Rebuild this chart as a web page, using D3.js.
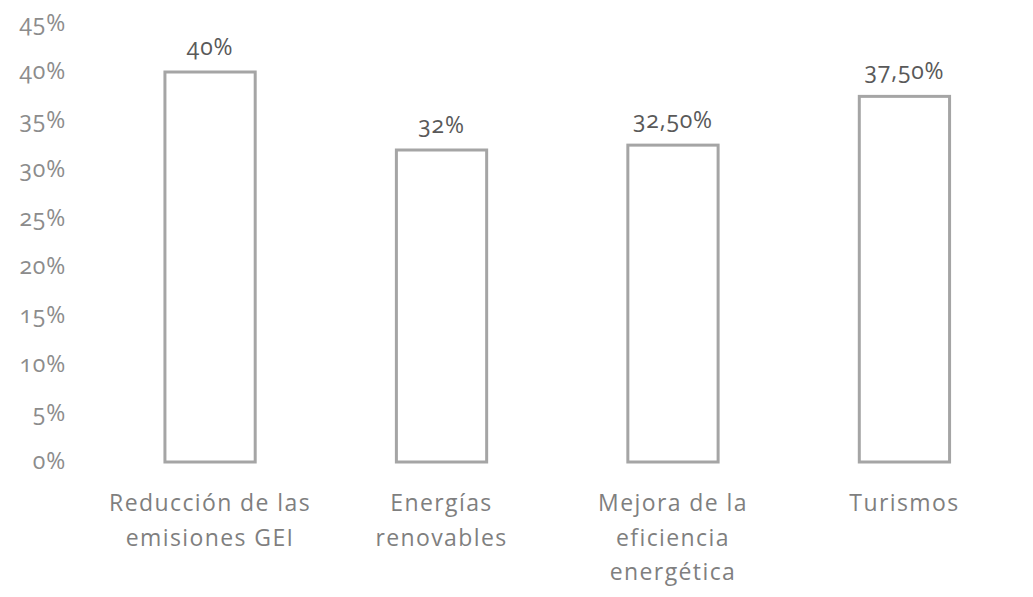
<!DOCTYPE html>
<html>
<head>
<meta charset="utf-8">
<script src="https://cdn.jsdelivr.net/npm/d3@7"></script>
<style>
  html, body { margin: 0; padding: 0; background: #ffffff; }
  svg text { font-family: "Open Sans", "Noto Sans", sans-serif; font-variant-numeric: oldstyle-nums; font-feature-settings: "onum" 1; }
</style>
</head>
<body>
<svg id="chart" width="1033" height="597"></svg>
<script>
// Categories (multi-line labels) and their values in percent
const categories = [
  ["Reducción de las", "emisiones GEI"],
  ["Energías", "renovables"],
  ["Mejora de la", "eficiencia", "energética"],
  ["Turismos"]
];
const values = [40, 32, 32.5, 37.5];
const valueLabels = ["40%", "32%", "32,50%", "37,50%"];
const yTicks = [0, 5, 10, 15, 20, 25, 30, 35, 40, 45];

const svg = d3.select("#chart");
const keys = categories.map((c, i) => i);

const x = d3.scaleBand()
  .domain(keys)
  .range([95.5, 1019])
  .paddingInner(0.61)
  .paddingOuter(0.3);

const y = d3.scaleLinear()
  .domain([0, 45])
  .range([462, 23.25]);

// Y axis: labels only, no domain line or tick marks
const yAxis = d3.axisLeft(y)
  .tickValues(yTicks)
  .tickFormat(d => d + "%")
  .tickSize(0)
  .tickPadding(0);

const gy = svg.append("g")
  .attr("transform", "translate(66,0)")
  .call(yAxis);
gy.select(".domain").remove();
gy.selectAll("text")
  .attr("fill", "#8c8c8c")
  .style("font-size", "23px")
  .style("letter-spacing", "0.8px")
  .attr("dy", "0.3em");

// Bars: outlined, white fill
svg.append("g")
  .selectAll("rect")
  .data(values)
  .join("rect")
  .attr("x", (d, i) => x(i))
  .attr("y", d => y(d))
  .attr("width", x.bandwidth())
  .attr("height", d => y(0) - y(d))
  .attr("fill", "#ffffff")
  .attr("stroke", "#a5a5a5")
  .attr("stroke-width", 3);

// Value labels above bars
svg.append("g")
  .selectAll("text")
  .data(values)
  .join("text")
  .attr("x", (d, i) => x(i) + x.bandwidth() / 2)
  .attr("y", d => y(d) - 17)
  .attr("text-anchor", "middle")
  .attr("fill", "#595959")
  .style("font-size", "23px")
  .style("letter-spacing", "0.8px")
  .text((d, i) => valueLabels[i]);

// Category labels under the bars
const cat = svg.append("g")
  .selectAll("text")
  .data(categories)
  .join("text")
  .attr("text-anchor", "middle")
  .attr("fill", "#7f7f7f")
  .style("font-size", "23px")
  .style("letter-spacing", "1.4px");

cat.each(function(lines, i) {
  const t = d3.select(this);
  lines.forEach((line, j) => {
    t.append("tspan")
      .attr("x", x(i) + x.bandwidth() / 2)
      .attr("y", 511 + j * 34.5)
      .text(line);
  });
});
</script>
</body>
</html>
